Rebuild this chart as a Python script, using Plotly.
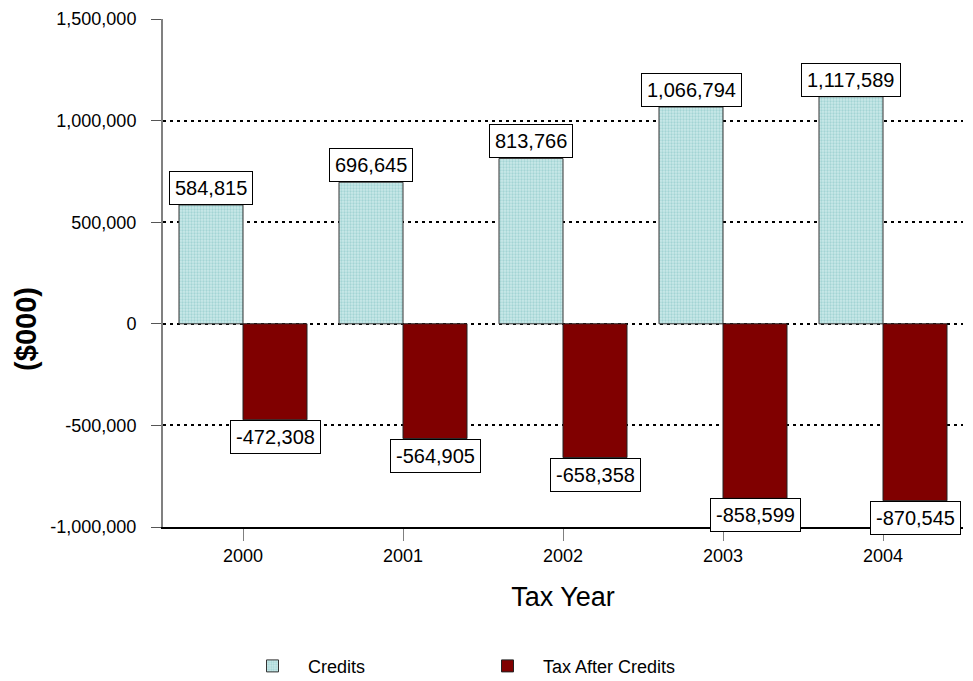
import plotly.graph_objects as go

years = ["2000", "2001", "2002", "2003", "2004"]
credits = [584815, 696645, 813766, 1066794, 1117589]
tax_after_credits = [-472308, -564905, -658358, -858599, -870545]
y_tick_vals = [-1000000, -500000, 0, 500000, 1000000, 1500000]
y_tick_text = ["-1,000,000", "-500,000", "0", "500,000", "1,000,000", "1,500,000"]

FONT = "Arial, Liberation Sans, sans-serif"

fig = go.Figure()
fig.add_trace(go.Bar(
    x=years, y=credits, name="Credits",
    marker=dict(color="#c4e6e6", line=dict(color="#333333", width=1),
                pattern=dict(shape=".", fgcolor="#a3d4d4", bgcolor="#cbeaea",
                             size=3, solidity=0.45, fillmode="replace")),
))
fig.add_trace(go.Bar(
    x=years, y=tax_after_credits, name="Tax After Credits",
    marker=dict(color="#800000", line=dict(color="#222222", width=1)),
))

annotations = []
for i, v in enumerate(credits):
    annotations.append(dict(x=i, y=v, xref="x", yref="y", text=f"{v:,}",
                            showarrow=False, xshift=-32, yanchor="bottom",
                            xanchor="center", bgcolor="white", bordercolor="black",
                            borderwidth=1, borderpad=5,
                            font=dict(family=FONT, size=20, color="black")))
for i, v in enumerate(tax_after_credits):
    annotations.append(dict(x=i, y=v, xref="x", yref="y", text=f"{v:,}",
                            showarrow=False, xshift=32, yanchor="top",
                            xanchor="center", bgcolor="white", bordercolor="black",
                            borderwidth=1, borderpad=5,
                            font=dict(family=FONT, size=20, color="black")))
annotations.append(dict(x=0, y=0.39, xref="paper", yref="paper", text="($000)",
                        textangle=-90, showarrow=False, xanchor="center",
                        yanchor="middle", xshift=-137,
                        font=dict(family=FONT, size=29, color="black", weight="bold")))

fig.update_layout(
    width=965, height=673,
    margin=dict(l=155, r=10, t=11, b=154, autoexpand=False),
    paper_bgcolor="white", plot_bgcolor="white",
    barmode="group", bargap=0.2, bargroupgap=0,
    font=dict(family=FONT, size=18, color="black"),
    annotations=annotations,
    legend=dict(orientation="h", x=0.0925, xanchor="left", y=-0.274, yanchor="middle",
                font=dict(family=FONT, size=18, color="black"),
                itemwidth=61,
                entrywidth=159, entrywidthmode="pixels", bgcolor="rgba(0,0,0,0)"),
    xaxis=dict(type="category", range=[-0.5, 4.5], automargin=False,
               showline=True, linecolor="black",
               linewidth=1.5, ticks="outside", ticklen=12, tickcolor="#808080", tickwidth=1,
               showgrid=False, tickfont=dict(family=FONT, size=18, color="black"),
               title=dict(text="Tax Year", font=dict(family=FONT, size=27, color="black"),
                          standoff=22)),
    yaxis=dict(range=[-1000000, 1500000], tickvals=y_tick_vals, ticktext=y_tick_text,
               automargin=False,
               showline=True, linecolor="#808080", linewidth=2,
               ticks="outside", ticklen=10, tickcolor="#555555", tickwidth=1,
               ticklabelstandoff=11,
               showgrid=True, gridcolor="black", gridwidth=2, griddash="3px,4px",
               zeroline=False, tickfont=dict(family=FONT, size=18, color="black")),
)

fig.write_html("out.html")
